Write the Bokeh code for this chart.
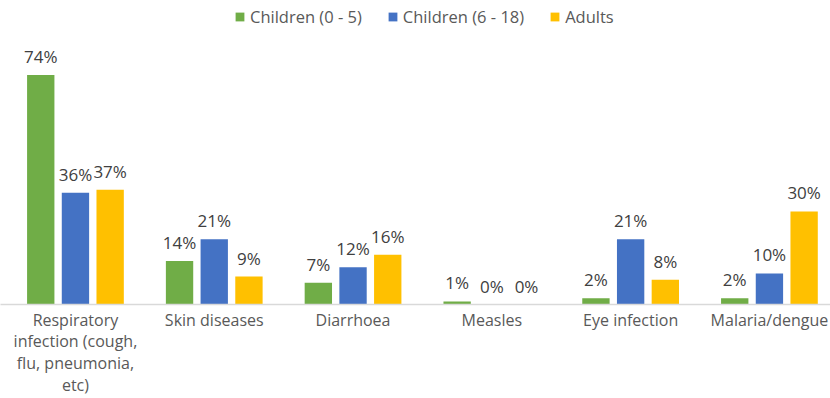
from bokeh.plotting import figure
from bokeh.models import ColumnDataSource, Range1d, LabelSet, Legend, LegendItem, FixedTicker
from bokeh.transform import dodge
from bokeh.core.properties import value
from bokeh.embed import file_html
from bokeh.resources import INLINE

categories = ["Respiratory infection", "Skin diseases", "Diarrhoea", "Measles", "Eye infection", "Malaria/dengue"]
category_labels = ["Respiratory\ninfection (cough,\nflu, pneumonia,\netc)", "Skin diseases", "Diarrhoea", "Measles", "Eye infection", "Malaria/dengue"]
series_names = ["Children (0 - 5)", "Children (6 - 18)", "Adults"]
children_0_5 = [74, 14, 7, 1, 2, 2]
children_6_18 = [36, 21, 12, 0, 21, 10]
adults = [37, 9, 16, 0, 8, 30]
colors = ["#70AD47", "#4472C4", "#FFC000"]

FONT = "Open Sans"
idx = list(range(len(categories)))

p = figure(x_range=Range1d(-0.54, 5.44), y_range=Range1d(0, 98), width=830, height=398,
           output_backend="svg", toolbar_location=None,
           min_border_left=0, min_border_right=0, min_border_top=0, min_border_bottom=90)
p.outline_line_color = None
p.xgrid.visible = False
p.ygrid.visible = False
p.yaxis.visible = False

series = [children_0_5, children_6_18, adults]
offsets = [-0.25, 0.0, 0.25]
items = []
for name, vals, col, off in zip(series_names, series, colors, offsets):
    src = ColumnDataSource(dict(x=idx, val=vals, txt=[f"{v}%" for v in vals]))
    r = p.vbar(x=dodge("x", off), top="val", width=0.197, source=src,
               fill_color=col, line_color=None)
    items.append(LegendItem(label=name, renderers=[r]))
    lbl = LabelSet(x=dodge("x", off), y="val", text="txt", source=src,
                   text_align="center", text_baseline="bottom", y_offset=7,
                   text_font=value(FONT), text_font_size="17px", text_color="#404040")
    p.add_layout(lbl)

legend = Legend(items=items, orientation="horizontal", location=(234, 276),
                label_text_font=FONT, label_text_font_size="16.5px", label_text_color="#595959",
                glyph_width=11, glyph_height=11, spacing=25, label_standoff=5,
                background_fill_alpha=0, border_line_color=None, margin=0, padding=2)
p.add_layout(legend, "center")

ax = p.xaxis[0]
ax.ticker = FixedTicker(ticks=idx)
ax.major_label_overrides = {i: lab for i, lab in zip(idx, category_labels)}
ax.axis_line_color = "#D9D9D9"
ax.axis_line_width = 1.5
ax.major_tick_line_color = None
ax.minor_tick_line_color = None
ax.major_label_text_font = FONT
ax.major_label_text_font_size = "16px"
ax.major_label_text_color = "#595959"
ax.major_label_text_line_height = 0.99
ax.major_label_standoff = -2

open("out.html", "w").write(file_html(p, INLINE))
